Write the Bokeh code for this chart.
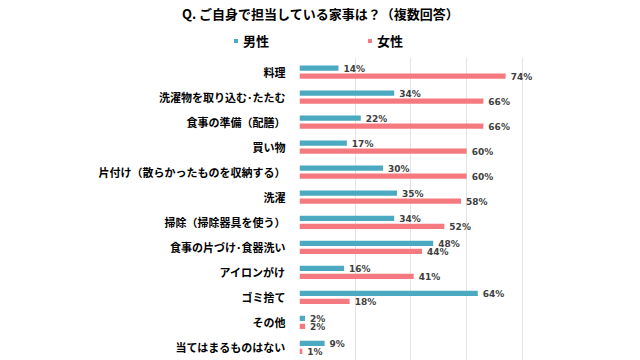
from bokeh.plotting import figure
from bokeh.layouts import column
from bokeh.models import (ColumnDataSource, Range1d, FixedTicker, Legend, LegendItem)
from bokeh.transform import dodge
from bokeh.core.properties import value
from bokeh.embed import file_html
from bokeh.resources import INLINE

title_text = "Q. ご自身で担当している家事は？（複数回答）"
categories = ["料理", "洗濯物を取り込む･たたむ", "食事の準備（配膳）", "買い物",
              "片付け（散らかったものを収納する）", "洗濯", "掃除（掃除器具を使う）",
              "食事の片づけ･食器洗い", "アイロンがけ", "ゴミ捨て", "その他", "当てはまるものはない"]
male = [14, 34, 22, 17, 30, 35, 34, 48, 16, 64, 2, 9]
female = [74, 66, 66, 60, 60, 58, 52, 44, 41, 18, 2, 1]
series_names = ["男性", "女性"]
x_ticks = [0, 20, 40, 60, 80]

MALE_C = "#4BA9C2"
FEMALE_C = "#F47A80"
JP = "Noto Sans CJK JP"
W, HEAD_H, MAIN_H = 640, 57, 303

# ---------- header: title + legend ----------
h = figure(width=W, height=HEAD_H, output_backend="svg", toolbar_location=None,
           x_range=Range1d(0, W), y_range=Range1d(HEAD_H, 0), frame_align=False,
           min_border_left=0, min_border_right=0, min_border_top=0, min_border_bottom=0)
h.axis.visible = False
h.grid.visible = False
h.outline_line_color = None
h.text(x=[W / 2], y=[12.5], text=[title_text], text_font=value(JP), text_font_size="13px",
       text_font_style="bold", text_color="#000000", text_align="center", text_baseline="middle")
# legend-only renderers: zero-width bars, nothing visible in the plot itself
hm = h.hbar(y=[0], left=[0], right=[0], height=0, fill_color=MALE_C, line_color=None)
hf = h.hbar(y=[0], left=[0], right=[0], height=0, fill_color=FEMALE_C, line_color=None)
legend = Legend(items=[LegendItem(label=series_names[0], renderers=[hm]),
                       LegendItem(label=series_names[1], renderers=[hf])],
                orientation="horizontal", location=(233, 7),
                glyph_width=5, glyph_height=5, label_standoff=5, spacing=98,
                padding=0, margin=0, border_line_color=None, background_fill_alpha=0,
                label_text_font=JP, label_text_font_size="13px", label_text_font_style="bold",
                label_text_color="#000000", label_height=14)
h.add_layout(legend, "center")

# ---------- main bar chart ----------
pos = list(range(len(categories)))
src = ColumnDataSource(dict(
    pos=pos, cat=categories, male=male, female=female,
    male_lbl=[f"{v}%" for v in male], female_lbl=[f"{v}%" for v in female],
))

p = figure(width=W, height=MAIN_H, output_backend="svg", toolbar_location=None,
           x_range=Range1d(0, 84), y_range=Range1d(11.52, -0.58), frame_align=False,
           min_border_left=299, min_border_right=107, min_border_top=0,
           min_border_bottom=0)
p.title.visible = False
p.outline_line_color = None

p.hbar(y=dodge("pos", -0.16, range=p.y_range), right="male", left=0, height=0.21,
       source=src, fill_color=MALE_C, line_color=None)
p.hbar(y=dodge("pos", 0.16, range=p.y_range), right="female", left=0, height=0.21,
       source=src, fill_color=FEMALE_C, line_color=None)

common = dict(text_font=value("DejaVu Sans"), text_font_size="9px", text_font_style="bold",
              text_color="#404040", text_baseline="middle", x_offset=5, y_offset=1)
p.text(x="male", y=dodge("pos", -0.16, range=p.y_range), text="male_lbl", source=src, **common)
p.text(x="female", y=dodge("pos", 0.16, range=p.y_range), text="female_lbl", source=src, **common)

p.xaxis.visible = False
p.xgrid.ticker = FixedTicker(ticks=x_ticks)
p.xgrid.grid_line_color = "#e3e3e3"
p.ygrid.visible = False

ya = p.yaxis[0]
ya.ticker = FixedTicker(ticks=pos)
ya.major_label_overrides = {i: c for i, c in zip(pos, categories)}
ya.axis_line_color = None
ya.major_tick_line_color = None
ya.major_tick_out = 0
ya.major_tick_in = 0
ya.minor_tick_line_color = None
ya.major_label_standoff = 14
ya.major_label_text_font = JP
ya.major_label_text_font_size = "11px"
ya.major_label_text_font_style = "bold"
ya.major_label_text_color = "#000000"

layout = column(h, p, spacing=0)
open("out.html", "w").write(file_html(layout, INLINE))
